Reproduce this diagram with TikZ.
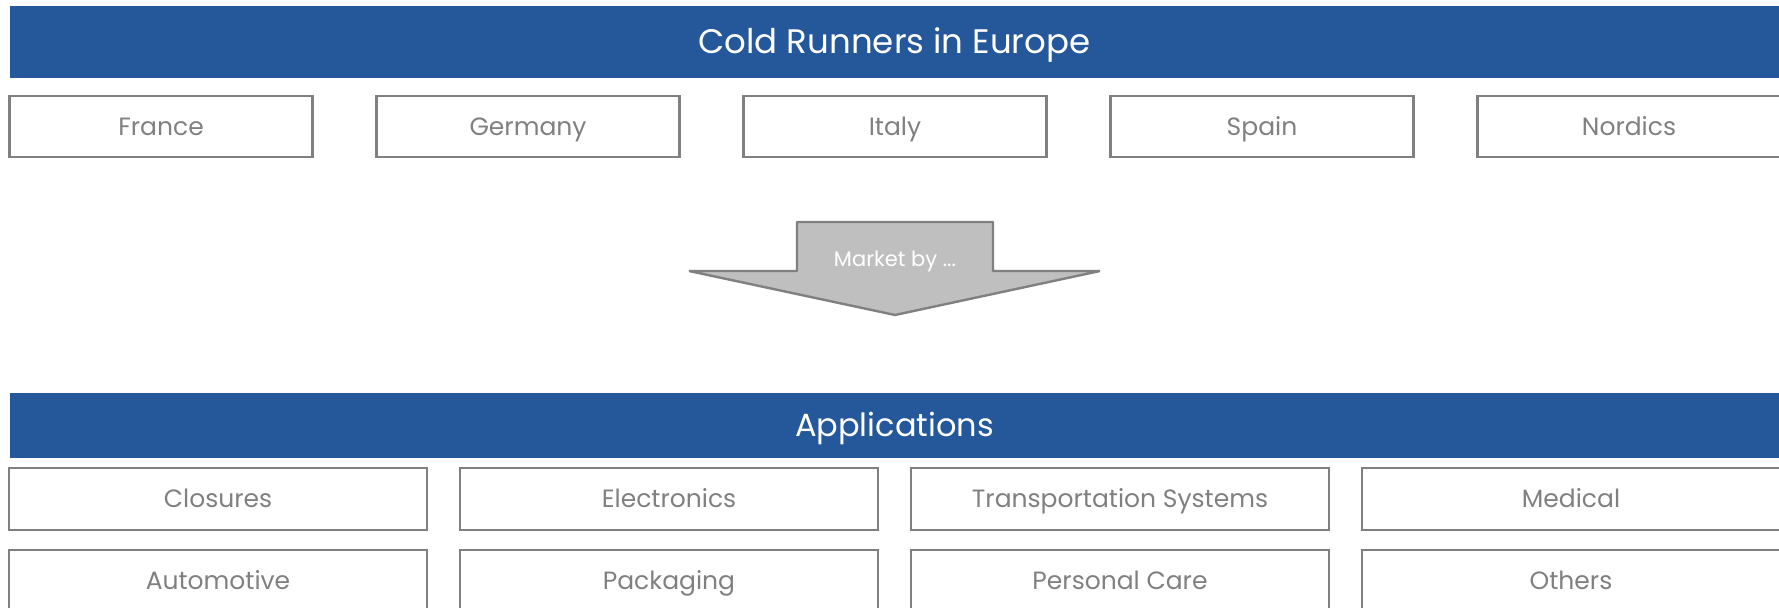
\documentclass[tikz,border=0pt]{standalone}
\usepackage{fontspec}
\setmainfont{Poppins}
\usetikzlibrary{positioning}
\definecolor{bannerblue}{RGB}{37,88,155}
\definecolor{boxgray}{RGB}{128,128,128}
\definecolor{arrowgray}{RGB}{191,191,191}
\tikzset{
	banner/.style={
		rectangle,
		minimum width=884.5pt,
		minimum height=36pt,
		inner sep=0pt,
		outer sep=0pt,
		text height=12pt,
		text depth=0pt,
		fill=bannerblue,
		text=white,
		font=\fontsize{17}{20}\selectfont
	},
	country/.style={
		rectangle,
		minimum width=151.5pt,
		minimum height=30.5pt,
		inner sep=0pt,
		outer sep=0pt,
		text height=8.8pt,
		text depth=0pt,
		draw=boxgray,
		line width=1.2pt,
		text=boxgray,
		font=\fontsize{12.5}{15}\selectfont
	},
	segment/.style={
		country,
		minimum width=209pt,
		minimum height=31pt
	},
	bigarrow/.style={
		fill=arrowgray,
		draw=boxgray,
		line width=1.2pt,
		line join=bevel
	},
	arrowlabel/.style={
		text=white,
		inner sep=0pt,
		text height=7.4pt,
		text depth=0pt,
		font=\fontsize{10.5}{12}\selectfont
	}
}

\begin{document}
\begin{tikzpicture}
	\useasboundingbox (0,0) rectangle (889.5pt,-304pt);
	\node (europe) [banner] at (447.25pt,-21pt) {Cold Runners in Europe};
	\node (france) [country] at (80.5pt,-63.25pt) {France};
	\node (germany) [country, right=32pt of france] {Germany};
	\node (italy) [country, right=32pt of germany] {Italy};
	\node (spain) [country, right=32pt of italy] {Spain};
	\node (nordics) [country, right=32pt of spain] {Nordics};
	
	\draw [bigarrow] (398.5pt,-111pt) -- (496.5pt,-111pt) -- (496.5pt,-135.5pt) -- (550pt,-135.5pt)
		-- (447.5pt,-157.5pt) -- (344.5pt,-135.5pt) -- (398.5pt,-135.5pt) -- cycle;
	\node (marketby) [arrowlabel] at (447.5pt,-129.5pt) {Market by ...};
	
	\node (apps) [banner, minimum height=32.5pt, text height=11.2pt, font=\fontsize{16}{19}\selectfont] at (447.25pt,-212.75pt) {Applications};
	\node (closures) [segment] at (109pt,-249.5pt) {Closures};
	\node (electronics) [segment, right=16.5pt of closures] {Electronics};
	\node (transport) [segment, right=16.5pt of electronics] {Transportation Systems};
	\node (medical) [segment, right=16.5pt of transport] {Medical};
	\node (automotive) [segment, below=10pt of closures] {Automotive};
	\node (packaging) [segment, below=10pt of electronics] {Packaging};
	\node (personal) [segment, below=10pt of transport] {Personal Care};
	\node (others) [segment, below=10pt of medical] {Others};
\end{tikzpicture}
\end{document}
